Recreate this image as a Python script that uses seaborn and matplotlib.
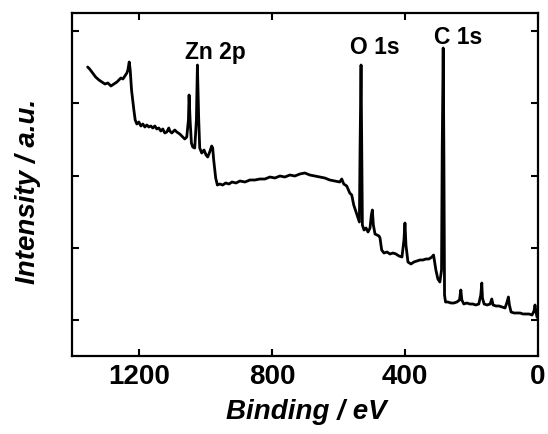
import numpy as np
import pandas as pd
import matplotlib
matplotlib.use("Agg")
import matplotlib.pyplot as plt
import seaborn as sns

# Binding energy (eV) and intensity (a.u.)
binding_energy = [
    1354, 1348, 1339, 1330, 1320, 1311, 1302, 1293, 1284, 1275, 1266, 1260, 1254, 1248, 1242, 1236, 1233,
    1229, 1226, 1222, 1215, 1211, 1206, 1200, 1194, 1188, 1182, 1176, 1170, 1164, 1158, 1152, 1146, 1140,
    1134, 1128, 1122, 1116, 1110, 1107, 1101, 1092, 1086, 1077, 1068, 1062, 1056, 1051, 1049, 1046, 1042,
    1038, 1032, 1027, 1024, 1020, 1017, 1011, 1004, 998, 993, 987, 981, 978, 975, 969, 964, 957, 948, 939,
    929, 920, 908, 896, 881, 866, 851, 836, 821, 806, 791, 776, 761, 746, 731, 716, 701, 686, 671, 656, 641,
    626, 611, 596, 590, 584, 575, 566, 560, 554, 547, 541, 537, 535, 532, 530, 528, 523, 517, 511, 505, 501,
    498, 495, 490, 484, 478, 475, 470, 463, 454, 445, 436, 427, 418, 409, 403, 400, 397, 391, 382, 373, 364,
    355, 346, 337, 328, 319, 314, 307, 301, 295, 290, 288, 285, 283, 281, 278, 271, 262, 253, 244, 236, 232,
    229, 223, 214, 205, 196, 187, 178, 172, 169, 167, 162, 153, 144, 139, 135, 126, 117, 108, 99, 93, 89,
    86, 81, 72, 63, 54, 45, 36, 27, 18, 12, 9, 6, 3, 0,
]
intensity = [
    289, 287, 283, 279, 276, 274, 272, 273, 270, 272, 274, 276, 278, 277, 280, 283, 286,
    294, 286, 266, 246, 236, 232, 234, 230, 232, 229, 231, 229, 230, 228, 230, 227, 228,
    225, 227, 223, 224, 228, 225, 223, 226, 224, 222, 219, 217, 219, 236, 261, 236, 213,
    209, 208, 236, 291, 236, 208, 203, 206, 201, 199, 204, 210, 208, 196, 178, 171, 172, 171, 173,
    172, 174, 173, 175, 174, 176, 176, 177, 177, 179, 178, 180, 179, 181, 180, 182, 183, 181, 180, 179, 178,
    176, 175, 174, 177, 172, 170, 163, 161, 151, 144, 138, 134, 206, 291, 206, 131, 126, 128, 124, 128, 141,
    146, 131, 122, 121, 120, 118, 106, 103, 104, 102, 103, 102, 100, 99, 116, 133, 111, 94, 92, 94, 95,
    96, 96, 97, 97, 99, 101, 86, 77, 74, 86, 206, 308, 206, 61, 54, 54, 53, 53, 54, 56, 66,
    56, 52, 53, 52, 52, 51, 52, 61, 73, 58, 52, 51, 52, 57, 51, 50, 50, 49, 48, 54, 59,
    51, 44, 43, 43, 43, 42, 42, 42, 41, 45, 51, 44, 39, 38,
]

peak_labels = ["Zn 2p", "O 1s", "C 1s"]
peak_label_x = [969, 492, 241]
peak_label_y = [304, 308, 319]

x_ticks = [1200, 800, 400, 0]
y_ticks = [36, 108, 180, 253, 325]

df = pd.DataFrame({"Binding": binding_energy, "Intensity": intensity})

sns.set_theme(style="ticks")
plt.rcParams["font.family"] = ["Liberation Sans", "DejaVu Sans"]
plt.rcParams["text.color"] = "black"
plt.rcParams["axes.labelcolor"] = "black"

fig = plt.figure(figsize=(5.48, 4.34), dpi=100)
ax = fig.add_axes([72 / 548, 1 - 356 / 434, (538 - 72) / 548, (356 - 13) / 434])

sns.lineplot(data=df, x="Binding", y="Intensity", ax=ax, color="black", linewidth=2.0,
             sort=False, estimator=None)

ax.set_xlim(1401, 0)
ax.set_ylim(0, 343)
ax.set_xticks(x_ticks)
ax.set_xticklabels([str(t) for t in x_ticks], fontsize=20, fontweight="bold", color="black")
ax.set_yticks(y_ticks)
ax.set_yticklabels([])

ax.tick_params(axis="both", direction="in", length=5, width=1.5, top=True, right=True,
               colors="black", pad=6)
for s in ax.spines.values():
    s.set_linewidth(1.6)
    s.set_color("black")

ax.set_xlabel("Binding / eV", fontsize=20, fontweight="bold", fontstyle="italic", color="black")
ax.set_ylabel("Intensity / a.u.", fontsize=20, fontweight="bold", fontstyle="italic", color="black")
ax.xaxis.set_label_coords(0.503, -0.125)
ax.yaxis.set_label_coords(-0.094, 0.481)
ax.yaxis.label.set_va("center")

for lab, lx, ly in zip(peak_labels, peak_label_x, peak_label_y):
    ax.text(lx, ly, lab, ha="center", va="center", fontsize=16.5, fontweight="bold", color="black")

fig.savefig("out.png", dpi=100)
